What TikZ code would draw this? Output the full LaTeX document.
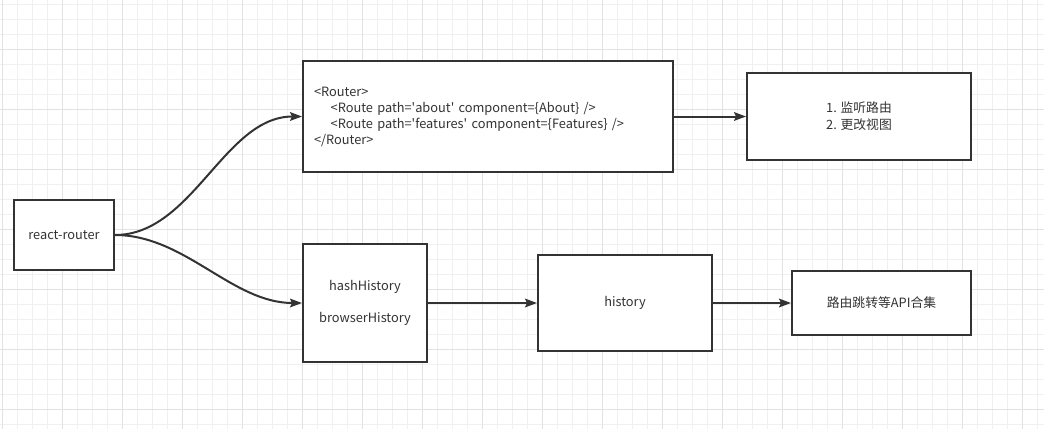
\documentclass[tikz,border=0pt]{standalone}
\usepackage{fontspec}
\setmainfont{Noto Sans CJK SC}
\usetikzlibrary{arrows.meta}
\definecolor{ink}{HTML}{333333}
\definecolor{gridminor}{HTML}{F0F0F0}
\definecolor{gridmajor}{HTML}{E2E2E2}
\newcommand{\sq}{\textquotesingle}
\tikzset{
  box/.style 2 args={draw=ink, line width=1.5pt, fill=white, rectangle,
    minimum width={#1*0.75pt}, minimum height={#2*0.75pt}, inner sep=0pt,
    text=ink, font=\fontsize{9.6pt}{12.75pt}\selectfont, align=center},
  conn/.style={draw=ink, line width=1.5pt,
    -{Stealth[length=9pt, width=6.5pt, inset=1.5pt]}}
}
\begin{document}
\begin{tikzpicture}[x=0.75pt,y=-0.75pt]
\useasboundingbox (0,0) rectangle (1044,429);
\fill[white] (0,0) rectangle (1044,429);
% grid
\foreach \x in {2,17,...,1044} \draw[gridminor, line width=0.75pt] (\x,0) -- (\x,429);
\foreach \y in {4,19,...,429} \draw[gridminor, line width=0.75pt] (0,\y) -- (1044,\y);
\foreach \x in {2,62,...,1044} \draw[gridmajor, line width=0.75pt] (\x,0) -- (\x,429);
\foreach \y in {49,109,...,429} \draw[gridmajor, line width=0.75pt] (0,\y) -- (1044,\y);
% nodes
\node[box={100}{70}] (rr) at (64,235) {react-router};
\node[box={370}{111}, align=left, text width={(370-22)*0.75pt}, inner xsep={11*0.75pt},
      font=\fontsize{9.6pt}{12pt}\selectfont] (router) at (488,116.5)
  {<Router>\\\hspace*{12.5pt}<Route path=\sq about\sq{} component=\{About\} />\\\hspace*{12.5pt}<Route path=\sq features\sq{} component=\{Features\} />\\</Router>};
\node[box={224}{87}] (listen) at (859,116.5) {1. 监听路由\\2. 更改视图};
\node[box={124}{118}, font=\fontsize{9.6pt}{12pt}\selectfont] (hh) at (365,303) {hashHistory\\[12pt]browserHistory};
\node[box={174}{96}] (hist) at (625,303) {history};
\node[box={179}{64}] (api) at (881.5,303) {路由跳转等API合集};
% connectors
\draw[conn] (rr.east) to[out=0, in=180, looseness=0.9] (router.west);
\draw[conn] (rr.east) to[out=0, in=180, looseness=0.9] (hh.west);
\draw[conn] (router.east |- listen.west) -- (listen.west);
\draw[conn] (hh.east) -- (hist.west);
\draw[conn] (hist.east) -- (api.west);
\end{tikzpicture}
\end{document}
